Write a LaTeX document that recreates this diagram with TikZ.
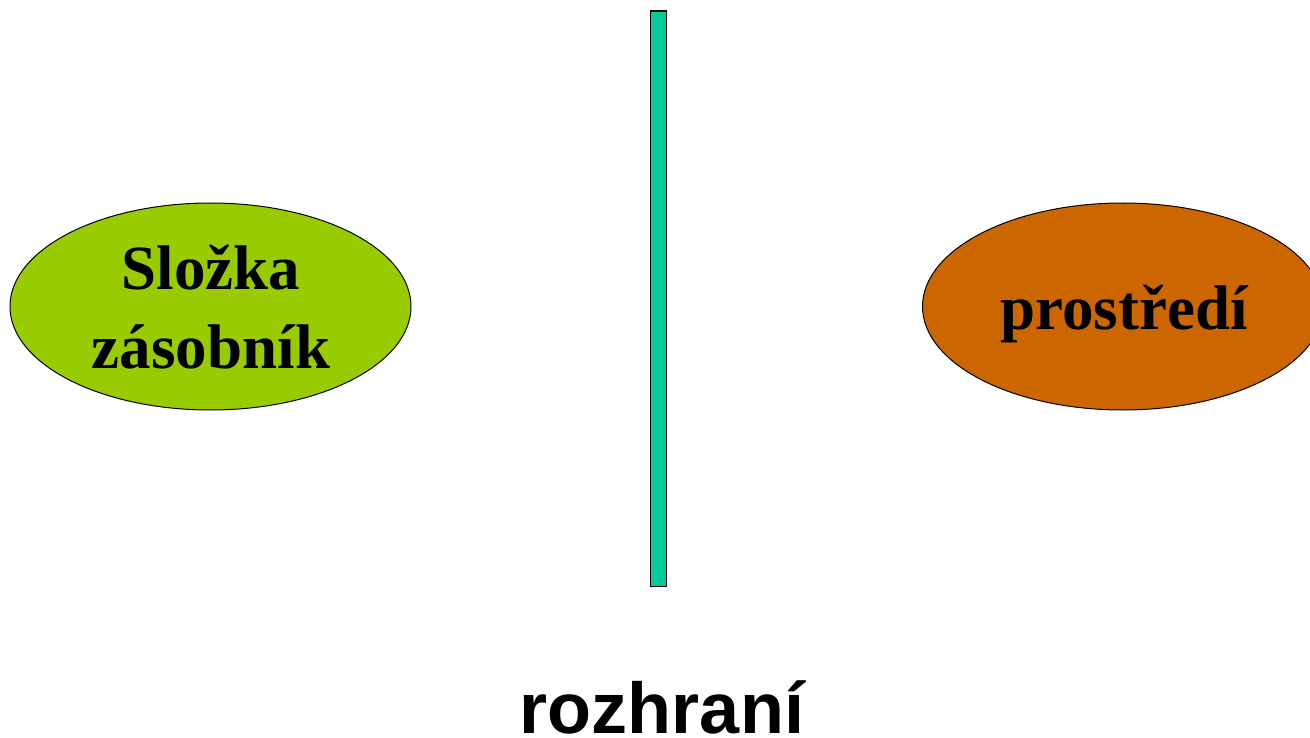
\documentclass[tikz,border=0pt]{standalone}
\usepackage{fontspec}
\setmainfont{Liberation Serif}
\newfontfamily\headfont{Liberation Sans}
\usetikzlibrary{shapes.geometric}
\definecolor{slozkagreen}{HTML}{99CC00}
\definecolor{prostorange}{HTML}{CC6600}
\definecolor{rozhrteal}{HTML}{00CC99}
\begin{document}
\begin{tikzpicture}[x=1pt,y=-1pt,
  blob/.style={ellipse, draw=black, line width=1pt, inner sep=0pt,
    minimum width=401pt, minimum height=207pt},
  blobtext/.style={anchor=base, inner sep=0pt, font=\fontsize{63}{70}\selectfont\bfseries},
  wall/.style={draw=black, line width=1.6pt, fill=rozhrteal}]
\useasboundingbox (0,0) rectangle (1310,738);
\clip (0,0) rectangle (1310,738);
% component / reservoir
\node[blob, fill=slozkagreen] (slozka) at (210.5,306.5) {};
\node[blobtext] (slozka1) at (211,290) {Složka};
\node[blobtext] (slozka2) at (211,368) {zásobník};
% surroundings
\node[blob, fill=prostorange] (prostredi) at (1123,306.5) {};
\node[blobtext] (prostredi1) at (1124,330) {prostředí};
% interface wall
\draw[wall] (650.5,11) rectangle (666.5,586.5);
\node[anchor=base, inner sep=0pt, font=\headfont\fontsize{72}{80}\selectfont\bfseries] (rozhrani) at (662,733) {rozhraní};
\end{tikzpicture}
\end{document}
